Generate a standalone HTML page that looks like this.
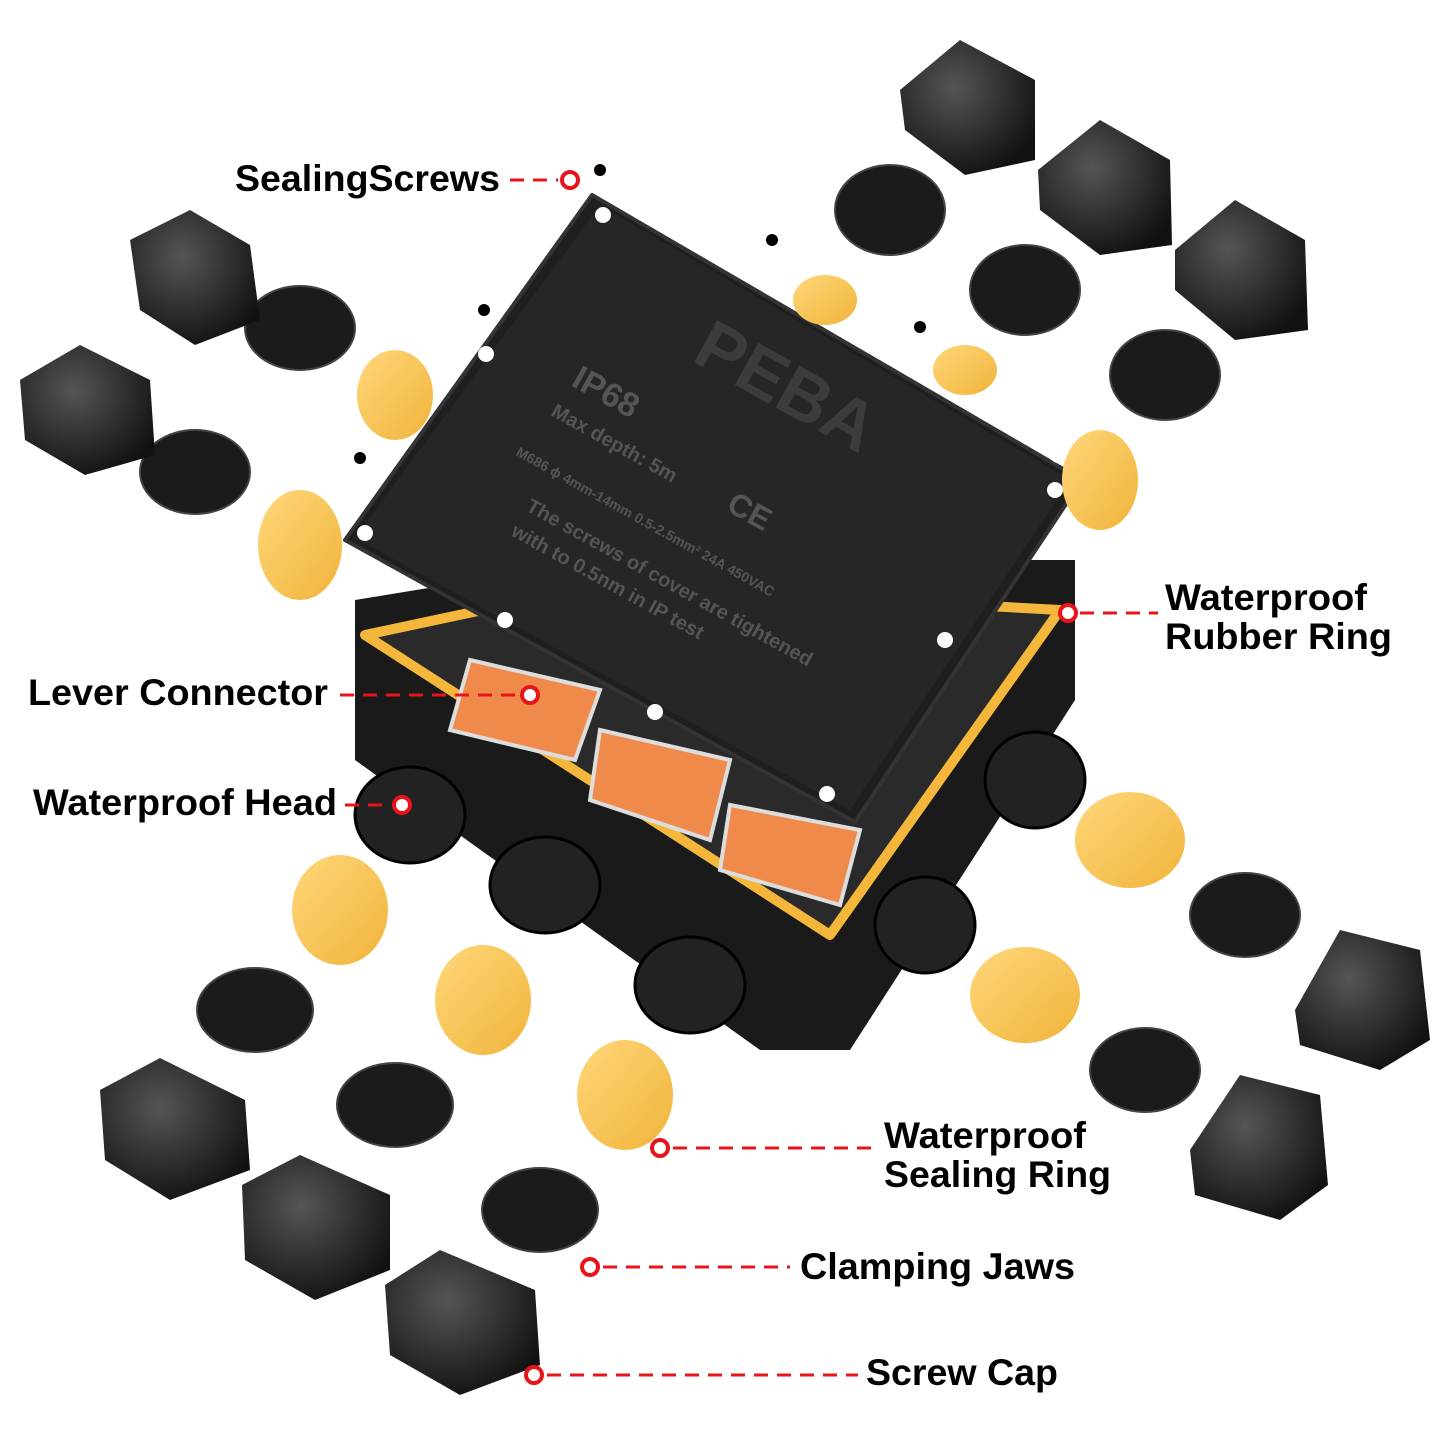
<!DOCTYPE html>
<html><head><meta charset="utf-8"><style>
html,body{margin:0;padding:0;background:#fff}
svg{display:block}
text{font-family:"Liberation Sans",sans-serif;font-weight:bold}
</style></head><body>
<svg width="1445" height="1445" viewBox="0 0 1445 1445">
<defs>
<radialGradient id="cap" cx="40%" cy="35%" r="70%"><stop offset="0" stop-color="#555"/><stop offset="1" stop-color="#111"/></radialGradient>
<linearGradient id="yel" x1="0" y1="0" x2="1" y2="1"><stop offset="0" stop-color="#ffd77a"/><stop offset="1" stop-color="#f0b43a"/></linearGradient>
</defs>
<rect width="1445" height="1445" fill="#fff"/>

<polygon points="355,600 600,560 1075,560 1075,700 850,1050 760,1050 355,760" fill="#1a1a1a"/>
<g fill="#222" stroke="#000" stroke-width="3">
<ellipse cx="410" cy="815" rx="55" ry="48"/>
<ellipse cx="545" cy="885" rx="55" ry="48"/>
<ellipse cx="690" cy="985" rx="55" ry="48"/>
<ellipse cx="1035" cy="780" rx="50" ry="48"/>
<ellipse cx="925" cy="925" rx="50" ry="48"/>
</g>
<polygon points="365,635 600,585 1060,610 830,935" fill="#2a2a2a" stroke="#f4b73b" stroke-width="10" stroke-linejoin="round"/>
<g fill="#f08a4b" stroke="#ddd" stroke-width="4">
<polygon points="470,660 600,690 575,760 450,730"/>
<polygon points="600,730 730,760 710,840 590,800"/>
<polygon points="730,805 860,830 840,905 720,870"/>
</g>
<polygon points="592,195 1082,480 855,822 345,540" fill="#1f1f1f" stroke="#333" stroke-width="4" stroke-linejoin="round"/>
<polygon points="600,205 1070,480 850,810 355,538" fill="#262626"/>
<g fill="#fff"><circle cx="603" cy="215" r="8"/><circle cx="770" cy="287" r="8"/><circle cx="913" cy="370" r="8"/><circle cx="1058" cy="455" r="8"/><circle cx="1055" cy="490" r="8"/><circle cx="486" cy="354" r="8"/><circle cx="365" cy="533" r="8"/><circle cx="505" cy="620" r="8"/><circle cx="655" cy="712" r="8"/><circle cx="827" cy="794" r="8"/><circle cx="945" cy="640" r="8"/></g>
<g fill="#555">
<text transform="translate(570,385) rotate(29)" font-size="34">IP68</text>
<text transform="translate(690,360) rotate(29)" font-size="70" fill="#3c3c3c">PEBA</text>
<text transform="translate(550,415) rotate(29)" font-size="20" font-weight="normal">Max depth: 5m</text>
<text transform="translate(515,455) rotate(29)" font-size="14" font-weight="normal">M686   ϕ 4mm-14mm  0.5-2.5mm²  24A  450VAC</text>
<text transform="translate(525,510) rotate(29)" font-size="20" font-weight="normal">The screws of cover are tightened</text>
<text transform="translate(510,535) rotate(29)" font-size="20" font-weight="normal">with to 0.5nm in IP test</text>
<text transform="translate(725,510) rotate(29)" font-size="32">CE</text>
</g>

<g fill="url(#yel)">
<ellipse cx="395" cy="395" rx="38" ry="45"/><ellipse cx="300" cy="545" rx="42" ry="55"/>
<ellipse cx="825" cy="300" rx="32" ry="25"/><ellipse cx="965" cy="370" rx="32" ry="25"/>
<ellipse cx="1100" cy="480" rx="38" ry="50"/>
<ellipse cx="340" cy="910" rx="48" ry="55"/><ellipse cx="483" cy="1000" rx="48" ry="55"/>
<ellipse cx="625" cy="1095" rx="48" ry="55"/>
<ellipse cx="1130" cy="840" rx="55" ry="48"/><ellipse cx="1025" cy="995" rx="55" ry="48"/>
</g>

<g fill="#1b1b1b" stroke="#444" stroke-width="2">
<ellipse cx="300" cy="328" rx="55" ry="42"/><ellipse cx="195" cy="472" rx="55" ry="42"/>
<ellipse cx="890" cy="210" rx="55" ry="45"/><ellipse cx="1025" cy="290" rx="55" ry="45"/><ellipse cx="1165" cy="375" rx="55" ry="45"/>
<ellipse cx="255" cy="1010" rx="58" ry="42"/><ellipse cx="395" cy="1105" rx="58" ry="42"/><ellipse cx="540" cy="1210" rx="58" ry="42"/>
<ellipse cx="1245" cy="915" rx="55" ry="42"/><ellipse cx="1145" cy="1070" rx="55" ry="42"/>
</g>
<g fill="url(#cap)">
<polygon points="130,240 190,210 250,245 260,320 195,345 140,310"/>
<polygon points="20,380 80,345 150,380 155,455 85,475 25,440"/>
<polygon points="900,90 960,40 1035,80 1035,160 965,175 905,130"/>
<polygon points="1038,170 1100,120 1170,160 1172,245 1100,255 1040,210"/>
<polygon points="1175,250 1235,200 1305,240 1308,330 1235,340 1175,290"/>
<polygon points="100,1090 160,1058 245,1100 250,1170 170,1200 105,1160"/>
<polygon points="242,1185 300,1155 390,1195 390,1270 315,1300 245,1260"/>
<polygon points="385,1285 440,1250 535,1290 540,1365 460,1395 390,1355"/>
<polygon points="1295,1010 1340,930 1420,950 1430,1040 1380,1070 1300,1045"/>
<polygon points="1190,1150 1240,1075 1320,1095 1328,1185 1280,1220 1195,1195"/>
</g>
<g fill="#000"><circle cx="600" cy="170" r="6"/><circle cx="772" cy="240" r="6"/><circle cx="484" cy="310" r="6"/><circle cx="920" cy="327" r="6"/><circle cx="360" cy="458" r="6"/></g>

<g stroke="#e8141b" stroke-width="3" fill="none" stroke-dasharray="14,9">
<line x1="510" y1="180" x2="558" y2="180"/>
<line x1="1080" y1="613" x2="1158" y2="613"/>
<line x1="340" y1="695" x2="518" y2="695"/>
<line x1="345" y1="805" x2="390" y2="805"/>
<line x1="673" y1="1148" x2="878" y2="1148"/>
<line x1="603" y1="1267" x2="790" y2="1267"/>
<line x1="547" y1="1375" x2="858" y2="1375"/>
</g>
<g stroke="#e8141b" stroke-width="4" fill="#fff">
<circle cx="570" cy="180" r="8"/><circle cx="1068" cy="613" r="8"/><circle cx="530" cy="695" r="8"/><circle cx="402" cy="805" r="8"/><circle cx="660" cy="1148" r="8"/><circle cx="590" cy="1267" r="8"/><circle cx="534" cy="1375" r="8"/>
</g>
<g font-size="37" fill="#000">
<text x="235" y="191" textLength="265" lengthAdjust="spacingAndGlyphs">SealingScrews</text>
<text x="1165" y="610" textLength="202" lengthAdjust="spacingAndGlyphs">Waterproof</text><text x="1165" y="649" textLength="227" lengthAdjust="spacingAndGlyphs">Rubber Ring</text>
<text x="28" y="705" textLength="300" lengthAdjust="spacingAndGlyphs">Lever Connector</text>
<text x="33" y="815" textLength="304" lengthAdjust="spacingAndGlyphs">Waterproof Head</text>
<text x="884" y="1148" textLength="202" lengthAdjust="spacingAndGlyphs">Waterproof</text><text x="884" y="1187" textLength="227" lengthAdjust="spacingAndGlyphs">Sealing Ring</text>
<text x="800" y="1279" textLength="275" lengthAdjust="spacingAndGlyphs">Clamping Jaws</text>
<text x="866" y="1385" textLength="192" lengthAdjust="spacingAndGlyphs">Screw Cap</text>
</g>
</svg>
</body></html>
